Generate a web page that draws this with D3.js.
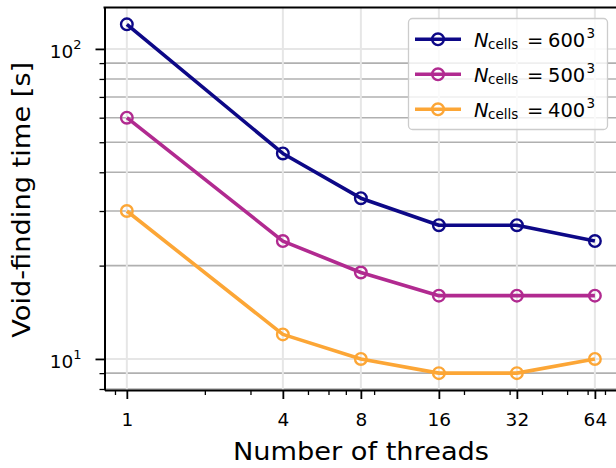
<!DOCTYPE html>
<html>
<head>
<meta charset="utf-8">
<script src="https://cdn.jsdelivr.net/npm/d3@7"></script>
<style>
  body { margin: 0; background: #fff; }
  svg { display: block; }
  text { font-family: "DejaVu Sans", sans-serif; fill: #000; }
</style>
</head>
<body>
<svg id="chart" width="616" height="468"></svg>
<script>
// Void-finding wall time versus thread count, three grid sizes
const threads = [1, 4, 8, 16, 32, 64];
const time600 = [120, 46, 33, 27, 27, 24];
const time500 = [60, 24, 19, 16, 16, 16];
const time400 = [30, 12, 10, 9, 9, 10];
const gridSizes = ["600", "500", "400"];
const seriesColors = ["#0d0887", "#b12a90", "#fca636"];
const xTickValues = [1, 4, 8, 16, 32, 64];
const xMinorTicks = [0.9, 2, 3, 5, 6, 7, 9, 20, 30, 40, 50, 60, 70];
const yTickValues = [10, 100];
const yMinorTicks = [8, 9, 20, 30, 40, 50, 60, 70, 80, 90];
const xLabel = "Number of threads";
const yLabel = "Void-finding time [s]";

const series = [time600, time500, time400].map((vals, i) => ({
  size: gridSizes[i],
  color: seriesColors[i],
  points: vals.map((v, j) => ({ t: threads[j], v }))
}));

const svg = d3.select("#chart");
const plotL = 104.5, plotR = 620, plotT = 7.5, plotB = 390;

const x = d3.scaleLog().domain([0.82, 80]).range([plotL, plotR]);
const y = d3.scaleLog().domain([7.94, 136]).range([plotB, plotT]);

// grid
const grid = svg.append("g");
grid.selectAll(".ymin").data(yMinorTicks.filter(d => y(d) < plotB - 1)).join("line")
  .attr("x1", plotL).attr("x2", plotR)
  .attr("y1", d => y(d)).attr("y2", d => y(d))
  .attr("stroke", "#b0b0b0").attr("stroke-width", 1.6);
grid.selectAll(".ymaj").data(yTickValues).join("line")
  .attr("x1", plotL).attr("x2", plotR)
  .attr("y1", d => y(d)).attr("y2", d => y(d))
  .attr("stroke", "#e6e6e6").attr("stroke-width", 2);
grid.selectAll(".xmaj").data(xTickValues).join("line")
  .attr("x1", d => x(d)).attr("x2", d => x(d))
  .attr("y1", plotT).attr("y2", plotB)
  .attr("stroke", "#e6e6e6").attr("stroke-width", 2);

// series lines and open circle markers
const line = d3.line().x(d => x(d.t)).y(d => y(d.v));
const sg = svg.append("g").selectAll("g").data(series).join("g");
sg.append("path")
  .attr("d", d => line(d.points))
  .attr("fill", "none")
  .attr("stroke", d => d.color)
  .attr("stroke-width", 3.6)
  .attr("stroke-linejoin", "round");
sg.selectAll("circle").data(d => d.points.map(p => ({ ...p, color: d.color }))).join("circle")
  .attr("cx", d => x(d.t)).attr("cy", d => y(d.v))
  .attr("r", 5.8)
  .attr("fill", "none")
  .attr("stroke", d => d.color)
  .attr("stroke-width", 2.4);

// axes
const xAxisG = svg.append("g").attr("transform", `translate(0,${plotB})`);
xAxisG.call(d3.axisBottom(x).tickValues(xMinorTicks).tickSize(5).tickSizeOuter(0).tickFormat(() => ""));
const xMajor = svg.append("g").attr("transform", `translate(0,${plotB})`)
  .call(d3.axisBottom(x).tickValues(xTickValues).tickSize(9).tickPadding(14).tickSizeOuter(0)
    .tickFormat(d3.format("d")));
xMajor.select(".domain").remove();
xMajor.selectAll("text").attr("font-size", "18.5px").attr("font-family", "DejaVu Sans");

const yAxisG = svg.append("g").attr("transform", `translate(${plotL},0)`);
yAxisG.call(d3.axisLeft(y).tickValues(yMinorTicks).tickSize(5).tickSizeOuter(0).tickFormat(() => ""));
const yMajor = svg.append("g").attr("transform", `translate(${plotL},0)`)
  .call(d3.axisLeft(y).tickValues(yTickValues).tickSize(9).tickPadding(14).tickSizeOuter(0).tickFormat(() => ""));
yMajor.select(".domain").remove();
yMajor.selectAll(".tick text").each(function (d) {
  const t = d3.select(this).attr("dy", null).attr("y", 9).attr("x", -23)
    .attr("font-size", "18.5px").attr("font-family", "DejaVu Sans");
  t.append("tspan").text("10");
  t.append("tspan").attr("dy", -9).attr("font-size", "13px").text(Math.round(Math.log10(d)));
});

svg.selectAll(".tick line").attr("stroke", "#000");
svg.selectAll(".domain").attr("stroke", "#000").attr("stroke-width", 2);
xAxisG.selectAll(".tick line").attr("stroke-width", 1.3);
yAxisG.selectAll(".tick line").attr("stroke-width", 1.3);
xMajor.selectAll(".tick line").attr("stroke-width", 1.8);
yMajor.selectAll(".tick line").attr("stroke-width", 1.8);

// top and right spines
svg.append("line").attr("x1", plotL - 1).attr("x2", plotR).attr("y1", plotT).attr("y2", plotT)
  .attr("stroke", "#000").attr("stroke-width", 2);
svg.append("line").attr("x1", plotR).attr("x2", plotR).attr("y1", plotT).attr("y2", plotB)
  .attr("stroke", "#000").attr("stroke-width", 2);

// axis titles
svg.append("text").attr("x", 361).attr("y", 460)
  .attr("text-anchor", "middle").attr("font-size", "25.5px")
  .attr("textLength", 256).attr("lengthAdjust", "spacingAndGlyphs").text(xLabel);
svg.append("text").attr("transform", `translate(29.5,${(plotT + plotB) / 2 + 1}) rotate(-90)`)
  .attr("text-anchor", "middle").attr("font-size", "25.5px")
  .attr("textLength", 276).attr("lengthAdjust", "spacingAndGlyphs").text(yLabel);

// legend
const lg = svg.append("g");
lg.append("rect").attr("x", 408.5).attr("y", 18.5).attr("width", 199).attr("height", 111).attr("rx", 4)
  .attr("fill", "#fff").attr("fill-opacity", 0.8).attr("stroke", "#cccccc").attr("stroke-width", 1.3);
const rows = lg.selectAll(".row").data(series).join("g")
  .attr("transform", (d, i) => `translate(0,${39.3 + i * 35})`);
rows.append("line").attr("x1", 415).attr("x2", 461).attr("y1", 0).attr("y2", 0)
  .attr("stroke", d => d.color).attr("stroke-width", 3.6);
rows.append("circle").attr("cx", 438).attr("cy", 0).attr("r", 5.8)
  .attr("fill", "none").attr("stroke", d => d.color).attr("stroke-width", 2.4);
const lt = rows.append("text").attr("y", 7.4).attr("font-size", "19.5px");
lt.append("tspan").attr("x", 474).attr("font-style", "italic").text("N");
lt.append("tspan").attr("x", 488).attr("dy", 2).attr("font-size", "13.5px").text("cells");
lt.append("tspan").attr("x", 527).attr("dy", -2).text("=");
lt.append("tspan").attr("x", 548).text(d => d.size);
lt.append("tspan").attr("x", 586.5).attr("dy", -9).attr("font-size", "13.5px").text("3");
</script>
</body>
</html>
